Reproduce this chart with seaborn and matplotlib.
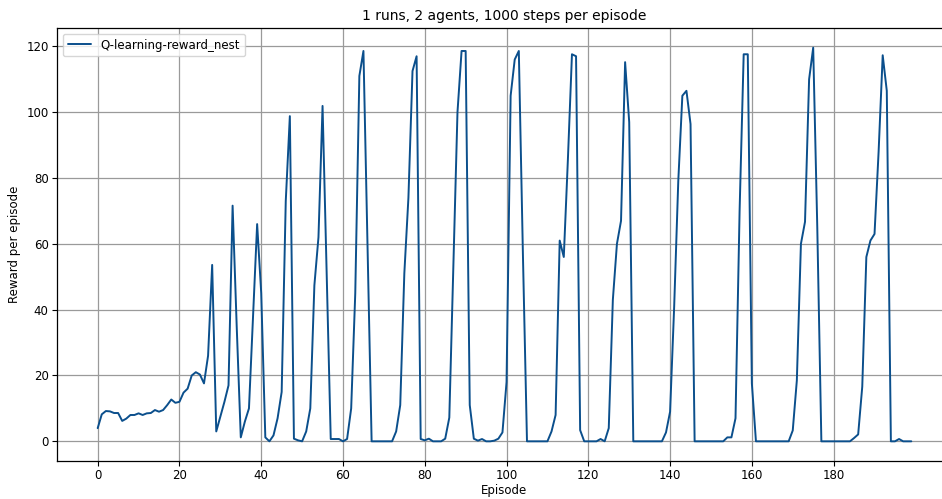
import numpy as np
import pandas as pd
import matplotlib
matplotlib.use("Agg")
import matplotlib.pyplot as plt
import seaborn as sns

# 1. 데이터 (에피소드별 보상, 그림에서 읽은 값)
rewards_0_49 = [4, 8.2, 9.2, 9.1, 8.6, 8.6, 6.2, 6.9, 8, 8,
                8.5, 8, 8.5, 8.6, 9.5, 9, 9.5, 11, 12.7, 11.7,
                12, 14.8, 16, 20, 21, 20.3, 17.6, 26, 53.6, 3,
                7.5, 12, 17, 71.6, 35, 1.2, 6, 10, 38, 66,
                45, 1.2, 0, 1.8, 7, 15, 73, 98.8, 0.8, 0.3]
rewards_50_99 = [0, 3, 10, 47.4, 62, 101.9, 51.5, 0.7, 0.7, 0.7,
                 0, 0.7, 10, 45, 111, 118.6, 59, 0, 0, 0,
                 0, 0, 0, 3, 11, 51, 74, 112.5, 117, 0.7,
                 0.3, 0.8, 0, 0, 0, 0.8, 7.2, 53, 100, 118.6,
                 118.6, 11, 0.8, 0.2, 0.7, 0, 0, 0.2, 0.8, 2.7]
rewards_100_149 = [18, 105, 116, 118.6, 57, 0, 0, 0, 0, 0,
                   0, 3, 8, 61, 56, 85.5, 117.6, 117, 3.4, 0,
                   0, 0, 0, 0.7, 0, 4, 43, 60, 67, 115.2,
                   97, 0, 0, 0, 0, 0, 0, 0, 0, 2.7,
                   9, 41, 79, 105, 106.5, 96.4, 0, 0, 0, 0]
rewards_150_199 = [0, 0, 0, 0, 1.2, 1.2, 7, 70, 117.6, 117.6,
                   17.6, 0, 0, 0, 0, 0, 0, 0, 0, 0,
                   3.3, 18.5, 60, 66.7, 110, 119.6, 65, 0, 0, 0,
                   0, 0, 0, 0, 0, 1, 2.1, 16.6, 56, 61,
                   63, 88, 117.3, 106.5, 0, 0, 0.7, 0, 0, 0]

rewards = rewards_0_49 + rewards_50_99 + rewards_100_149 + rewards_150_199
episodes = list(range(len(rewards)))
x_ticks = list(range(0, 200, 20))
y_ticks = list(range(0, 140, 20))

df = pd.DataFrame({"Episode": episodes, "Reward": rewards})

# 2. 스타일
sns.set_style("white")
plt.rcParams["font.family"] = ["DejaVu Sans"]
plt.rcParams["font.size"] = 8.5
plt.rcParams["text.color"] = "black"
plt.rcParams["axes.labelcolor"] = "black"
plt.rcParams["xtick.color"] = "black"
plt.rcParams["ytick.color"] = "black"

fig = plt.figure(figsize=(9.42, 4.99), dpi=100)
ax = fig.add_axes([57 / 942, 38 / 499, 895 / 942, 433 / 499])

sns.lineplot(data=df, x="Episode", y="Reward", color="#0b4f8c", linewidth=1.4,
             label="Q-learning-reward_nest", ax=ax)

ax.set_xticks(x_ticks)
ax.set_yticks(y_ticks)
ax.grid(True, color="#9a9a9a", linewidth=0.9)
ax.set_axisbelow(True)
for s in ax.spines.values():
    s.set_color("black")
    s.set_linewidth(0.9)
ax.tick_params(axis="both", direction="out", length=3.5, width=0.8, labelsize=8.5,
               pad=2.5, bottom=True, left=True, color="black")

ax.set_title("1 runs, 2 agents, 1000 steps per episode", fontsize=10)
ax.set_xlabel("Episode", fontsize=8.5, labelpad=1)
ax.set_ylabel("Reward per episode", fontsize=8.5)
ax.legend(loc="upper left", fontsize=8.5, frameon=True, fancybox=True, edgecolor="#cccccc")

plt.savefig("out.png", dpi=100)
